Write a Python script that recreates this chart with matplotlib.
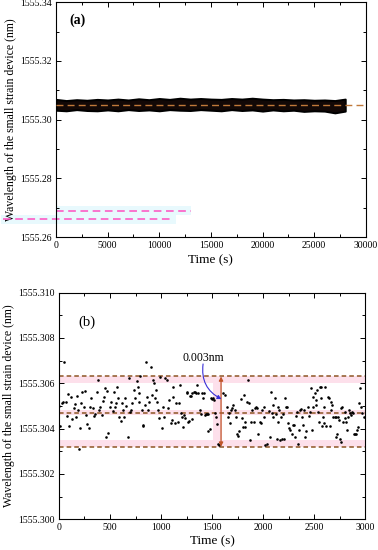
import numpy as np
import matplotlib
matplotlib.use("Agg")
import matplotlib.pyplot as plt

plt.rcParams['font.family'] = ['Liberation Serif', 'DejaVu Serif']

# ---- panel (a): long run, dense band (envelope) ----
time_a = [0, 1000, 2000, 3000, 4000, 5000, 6000, 7000, 8000, 9000, 10000,
          11000, 12000, 13000, 14000, 15000, 16000, 17000, 18000, 19000, 20000,
          21000, 22000, 23000, 24000, 25000, 26000, 27000, 28000]
# offsets above 1555.300 nm, in units of 1e-4 nm
upper_a = [69, 65, 68, 66, 69, 67, 70, 67, 71, 68, 72, 69, 73, 70, 72, 70, 69, 72,
           70, 73, 70, 68, 69, 67, 68, 66, 67, 65, 70]
lower_a = [32, 30, 34, 31, 30, 33, 30, 34, 31, 33, 30, 34, 32, 31, 34, 32, 30, 34,
           31, 33, 29, 33, 30, 32, 28, 30, 29, 23, 29]
mean_a = 1555.3049
stray_a = [1555.2690, 1555.2660]
stray_x = [(0, 13100), (-5100, 11350)]
stray_bg = [(0, 13100), (-5300, 11600)]

# ---- panel (b): 3000 s zoom ----
time_b = [0, 10, 25, 40, 50, 65, 75, 90, 100, 120, 130, 150, 160, 170, 180, 190, 200,
          210, 220, 230, 245, 255, 265, 270, 290, 300, 310, 330, 340, 350, 370, 380,
          390, 400, 420, 430, 440, 450, 460, 470, 480, 500, 510, 525, 540, 550, 560,
          565, 580, 590, 605, 615, 630, 640, 650, 660, 680, 690, 700, 710, 720, 735,
          745, 760, 770, 780, 785, 795, 810, 820, 825, 840, 850, 865, 875, 880, 900,
          910, 920, 930, 940, 950, 960, 970, 980, 990, 1005, 1015, 1025, 1040, 1055,
          1070, 1080, 1095, 1105, 1115, 1120, 1135, 1150, 1165, 1175, 1185, 1195,
          1205, 1215, 1225, 1235, 1250, 1255, 1265, 1275, 1280, 1290, 1300, 1305,
          1320, 1330, 1340, 1350, 1360, 1380, 1390, 1405, 1410, 1420, 1430, 1440,
          1450, 1460, 1465, 1475, 1490, 1495, 1505, 1520, 1530, 1540, 1545, 1555,
          1570, 1610, 1630, 1645, 1655, 1670, 1675, 1690, 1700, 1710, 1725, 1735,
          1745, 1755, 1765, 1780, 1790, 1800, 1810, 1820, 1825, 1840, 1855, 1860,
          1875, 1885, 1895, 1910, 1920, 1930, 1945, 1955, 1965, 1975, 1985, 2005,
          2010, 2020, 2035, 2055, 2070, 2075, 2085, 2095, 2100, 2120, 2125, 2135,
          2145, 2150, 2160, 2170, 2175, 2185, 2195, 2205, 2215, 2225, 2235, 2245,
          2255, 2265, 2280, 2290, 2300, 2315, 2325, 2330, 2340, 2350, 2360, 2370,
          2385, 2395, 2405, 2415, 2425, 2440, 2445, 2460, 2465, 2475, 2485, 2490,
          2505, 2515, 2520, 2530, 2540, 2545, 2555, 2565, 2570, 2580, 2590, 2595,
          2600, 2610, 2620, 2635, 2650, 2655, 2665, 2670, 2680, 2685, 2700, 2710,
          2715, 2725, 2730, 2740, 2750, 2760, 2765, 2775, 2780, 2800, 2805, 2815,
          2825, 2830, 2845, 2855, 2860, 2870, 2880, 2890, 2905, 2910, 2920, 2930,
          2935, 2950, 2955, 2970, 2985]
# offsets above 1555.300 nm, in units of 1e-4 nm
offset_b = [49.9, 41.2, 51.1, 51.6, 69.2, 51.8, 45.5, 55.2, 41.1, 54.0, 44.2, 48.9,
            50.8, 45.2, 54.3, 48.2, 31.1, 40.1, 51.1, 56.0, 49.3, 56.7, 46.2, 42.0,
            40.1, 49.6, 53.3, 48.9, 45.5, 46.4, 56.0, 61.4, 48.2, 49.3, 45.9, 52.3,
            54.0, 57.7, 36.4, 56.7, 38.1, 49.6, 51.8, 47.7, 56.0, 49.3, 51.1, 58.5,
            53.3, 45.2, 43.4, 51.1, 48.2, 45.2, 53.3, 49.9, 36.4, 62.4, 47.4, 48.2,
            51.1, 57.0, 53.3, 61.1, 58.5, 51.8, 55.5, 63.2, 48.2, 41.5, 41.1, 50.4,
            69.2, 54.0, 48.2, 51.8, 67.3, 54.8, 61.4, 59.9, 53.3, 57.0, 51.8, 48.2,
            44.5, 62.9, 40.1, 49.6, 45.2, 62.2, 61.4, 48.9, 52.6, 42.3, 43.7, 58.2,
            54.0, 42.3, 51.1, 43.0, 51.1, 59.2, 46.7, 45.2, 40.8, 45.9, 44.8, 56.0,
            55.8, 43.0, 43.4, 54.3, 54.3, 55.5, 44.0, 56.3, 56.3, 55.5, 59.2, 55.5,
            48.2, 46.4, 55.8, 53.3, 55.8, 45.9, 46.4, 46.4, 46.4, 39.0, 39.6, 53.3,
            53.0, 53.3, 52.6, 46.7, 45.2, 42.0, 33.4, 32.7, 55.8, 54.8, 49.6, 45.2,
            46.7, 42.3, 48.2, 49.2, 50.4, 48.2, 45.2, 37.6, 36.7, 38.9, 52.9, 44.5,
            40.8, 54.8, 40.8, 43.0, 51.8, 61.4, 51.1, 34.9, 43.0, 48.2, 43.0, 48.9,
            49.3, 48.9, 37.6, 43.0, 42.3, 48.2, 49.6, 45.2, 32.7, 33.4, 47.9, 36.4,
            56.3, 46.7, 50.4, 45.2, 53.3, 46.4, 35.6, 49.6, 43.0, 48.2, 34.9, 45.2,
            35.6, 46.4, 35.6, 53.3, 49.3, 49.3, 42.3, 40.1, 39.3, 37.6, 41.5, 41.5,
            36.4, 45.5, 47.4, 33.1, 39.3, 48.2, 48.5, 45.2, 41.5, 48.2, 36.4, 39.0,
            49.6, 45.5, 47.4, 58.0, 39.3, 49.6, 54.0, 55.5, 50.4, 52.6, 57.0, 47.4,
            43.0, 58.2, 58.2, 53.3, 41.1, 45.2, 42.3, 49.6, 58.2, 41.1, 54.0, 53.3,
            41.1, 51.8, 48.2, 50.4, 45.2, 45.2, 36.4, 45.2, 37.8, 45.2, 43.7, 35.6,
            34.2, 48.9, 49.6, 43.0, 47.4, 44.5, 43.0, 39.3, 45.2, 48.2, 46.7, 45.9,
            47.4, 46.7, 37.8, 37.8, 37.8, 39.3, 40.8, 51.1, 57.7, 49.6, 46.7, 45.2]
levels_b = [1555.3063, 1555.3047, 1555.3032]   # upper, mean, lower
arrow_x = 1588
label_b = "0.003nm"

base = 1555.300
brown = '#8e5524'

fig = plt.figure(figsize=(3.78, 5.5), dpi=100)
ax1 = fig.add_axes([0.148, 0.569, 0.820, 0.427])
ax2 = fig.add_axes([0.156, 0.056, 0.810, 0.412])

# ---------- (a) ----------
up = base + np.array(upper_a) * 1e-4
lo = base + np.array(lower_a) * 1e-4
ax1.fill_between(time_a, lo, up, color='#120806', lw=1.4, edgecolor='black', zorder=2)
ax1.plot([0, 30000], [mean_a, mean_a], ls=(0, (5, 3)), color='#c0793a', lw=1.0, zorder=3)
for yv, (b0, b1) in zip(stray_a, stray_bg):
    ax1.fill_between([b0, b1], yv - 0.0015, yv + 0.0015, color='#e8f9fd', lw=0,
                     clip_on=False, zorder=1)
for yv, (x0, x1) in zip(stray_a, stray_x):
    ax1.plot([x0, x1], [yv, yv], ls=(0, (5, 3)), color='#ff4fc0', lw=1.1,
             clip_on=False, zorder=2.5)
ax1.set_xlim(0, 30000)
ax1.set_ylim(1555.26, 1555.34)
ax1.set_xticks(np.arange(0, 30001, 5000))
ax1.set_xticks(np.arange(0, 30001, 2500), minor=True)
ax1.set_yticks([1555.26, 1555.28, 1555.30, 1555.32, 1555.34])
ax1.set_yticks(np.arange(1555.26, 1555.341, 0.01), minor=True)
ax1.set_yticklabels(['1555.26', '1555.28', '1555.30', '1555.32', '1555.34'])
ax1.set_xlabel('Time (s)', fontsize=9.5, labelpad=3)
ax1.set_ylabel('Wavelength of the small strain device (nm)', fontsize=8.5, labelpad=2)
ax1.text(2100, 1555.3337, '(a)', fontsize=10, fontweight='bold', ha='center', va='center')

# ---------- (b) ----------
wl_b = base + np.array(offset_b) * 1e-4
pink = '#fde0eb'
ax2.axhspan(levels_b[0] - 0.0003, levels_b[0], color=pink, lw=0, zorder=1)
ax2.axhspan(levels_b[1] - 0.0001, levels_b[1] + 0.0001, color=pink, lw=0, zorder=1)
ax2.axhspan(levels_b[2], levels_b[2] + 0.0003, color=pink, lw=0, zorder=1)
ax2.fill_between([1510, 1595], levels_b[2], levels_b[0], color=pink, lw=0, zorder=1)
for yv in levels_b:
    ax2.plot([0, 3000], [yv, yv], ls=(0, (3, 2)), color=brown, lw=1.1, zorder=2)
ax2.scatter(time_b, wl_b, s=3.5, color='black', zorder=3, linewidths=0)
ax2.annotate('', xy=(arrow_x, levels_b[0]), xytext=(arrow_x, levels_b[2]),
             arrowprops=dict(arrowstyle='<|-|>', color='#c0552a', lw=0.9,
                             mutation_scale=6, shrinkA=0, shrinkB=0), zorder=4)
ax2.text(1415, 1555.3071, label_b, fontsize=8.5, ha='center', va='center')
ax2.annotate('', xy=(arrow_x + 5, 1555.3053), xytext=(1412, 1555.30685),
             arrowprops=dict(arrowstyle='-|>', color='#3a2fd6', lw=0.8,
                             mutation_scale=6, shrinkA=0, shrinkB=0,
                             connectionstyle='arc3,rad=0.35'), zorder=4)
ax2.set_xlim(0, 3000)
ax2.set_ylim(1555.300, 1555.310)
ax2.set_xticks(np.arange(0, 3001, 500))
ax2.set_xticks(np.arange(0, 3001, 250), minor=True)
yt = [1555.300, 1555.302, 1555.304, 1555.306, 1555.308, 1555.310]
ax2.set_yticks(yt)
ax2.set_yticklabels(['%.3f' % v for v in yt])
ax2.set_yticks(np.arange(1555.300, 1555.3101, 0.001), minor=True)
ax2.set_xlabel('Time (s)', fontsize=9.5, labelpad=2)
ax2.set_ylabel('Wavelength of the small strain device (nm)', fontsize=8.5, labelpad=2)
ax2.text(270, 1555.3087, '(b)', fontsize=10.5, ha='center', va='center')

for ax in (ax1, ax2):
    ax.tick_params(which='both', direction='in', top=True, right=True, labelsize=7,
                   width=0.7, pad=3)
    ax.tick_params(which='major', length=3.5)
    ax.tick_params(which='minor', length=2)
    for s in ax.spines.values():
        s.set_linewidth(0.8)

fig.savefig('out.png', dpi=100)
